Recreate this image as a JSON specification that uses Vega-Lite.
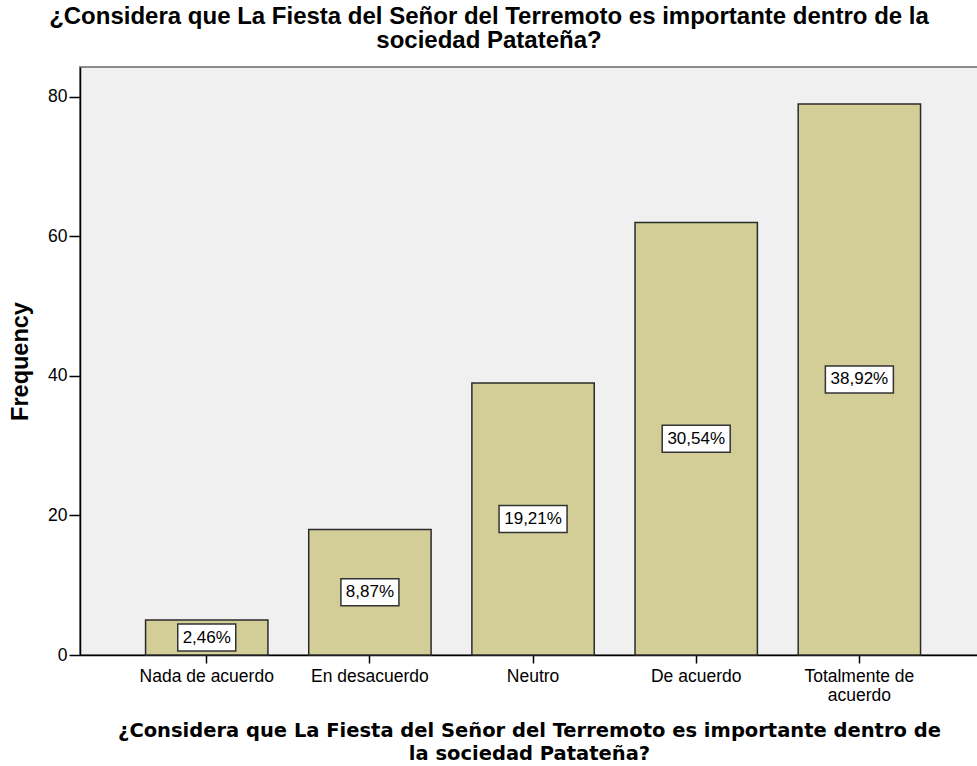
{
  "$schema": "https://vega.github.io/schema/vega-lite/v6.json",
  "width": 898,
  "height": 588,
  "autosize": {"type": "none"},
  "padding": {"left": 80, "top": 67, "right": 0, "bottom": 111},
  "background": "white",
  "config": {
    "view": {"fill": "#f0f0f0", "stroke": "#8c8c8c", "strokeWidth": 2},
    "font": "Liberation Sans",
    "axis": {
      "domainColor": "black",
      "domainWidth": 1.5,
      "tickColor": "black",
      "tickWidth": 1.5,
      "labelFont": "Liberation Sans",
      "labelFontSize": 17.5,
      "labelColor": "black",
      "grid": false,
      "titleColor": "black"
    }
  },
  "title": {
    "text": ["¿Considera que La Fiesta del Señor del Terremoto es importante dentro de la", "sociedad Patateña?"],
    "font": "Liberation Sans",
    "fontSize": 24,
    "fontWeight": "bold",
    "color": "black",
    "anchor": "middle",
    "dx": -40,
    "offset": 14,
    "lineHeight": 24.5
  },
  "data": {
    "values": [
      {"answer": "Nada de acuerdo", "count": 5, "pct": "2,46%"},
      {"answer": "En desacuerdo", "count": 18, "pct": "8,87%"},
      {"answer": "Neutro", "count": 39, "pct": "19,21%"},
      {"answer": "De acuerdo", "count": 62, "pct": "30,54%"},
      {"answer": "Totalmente de acuerdo", "count": 79, "pct": "38,92%"}
    ]
  },
  "encoding": {
    "x": {
      "field": "answer",
      "type": "nominal",
      "sort": null,
      "scale": {"paddingInner": 0.25, "paddingOuter": 0.377, "align": 0.533},
      "axis": {
        "labelAngle": 0,
        "tickSize": 8,
        "labelPadding": 4,
        "labelLineHeight": 19,
        "labelExpr": "datum.label == 'Totalmente de acuerdo' ? ['Totalmente de', 'acuerdo'] : datum.label",
        "title": ["¿Considera que La Fiesta del Señor del Terremoto es importante dentro de", "la sociedad Patateña?"],
        "titleFont": "DejaVu Sans",
        "titleFontSize": 19.5,
        "titleFontWeight": "bold",
        "titlePadding": 18,
        "titleLineHeight": 23
      }
    }
  },
  "layer": [
    {
      "mark": {"type": "bar", "fill": "#d3ce98", "stroke": "#2b2b2b", "strokeWidth": 1.5},
      "encoding": {
        "y": {
          "field": "count",
          "type": "quantitative",
          "scale": {"domain": [0, 84.3], "nice": false},
          "axis": {
            "values": [0, 20, 40, 60, 80],
            "tickSize": 11,
            "labelPadding": 2,
            "title": "Frequency",
            "titleFont": "Liberation Sans",
            "titleFontSize": 23.5,
            "titleFontWeight": "bold",
            "titlePadding": 15
          }
        }
      }
    },
    {
      "mark": {"type": "point", "filled": true, "fill": "white", "stroke": "#333333", "strokeWidth": 1.5, "opacity": 1, "size": 4624},
      "encoding": {
        "y": {"field": "count", "type": "quantitative", "scale": {"domain": [0, 168.6], "nice": false}, "axis": null},
        "shape": {
          "condition": {"test": "length(datum.pct) > 5", "value": "M-1,-0.397L1,-0.397L1,0.397L-1,0.397Z"},
          "value": "M-0.853,-0.397L0.853,-0.397L0.853,0.397L-0.853,0.397Z"
        }
      }
    },
    {
      "mark": {"type": "text", "font": "Liberation Sans", "fontSize": 17, "color": "black"},
      "encoding": {
        "y": {"field": "count", "type": "quantitative", "scale": {"domain": [0, 168.6], "nice": false}, "axis": null},
        "text": {"field": "pct"}
      }
    }
  ],
  "resolve": {"scale": {"y": "independent"}}
}
